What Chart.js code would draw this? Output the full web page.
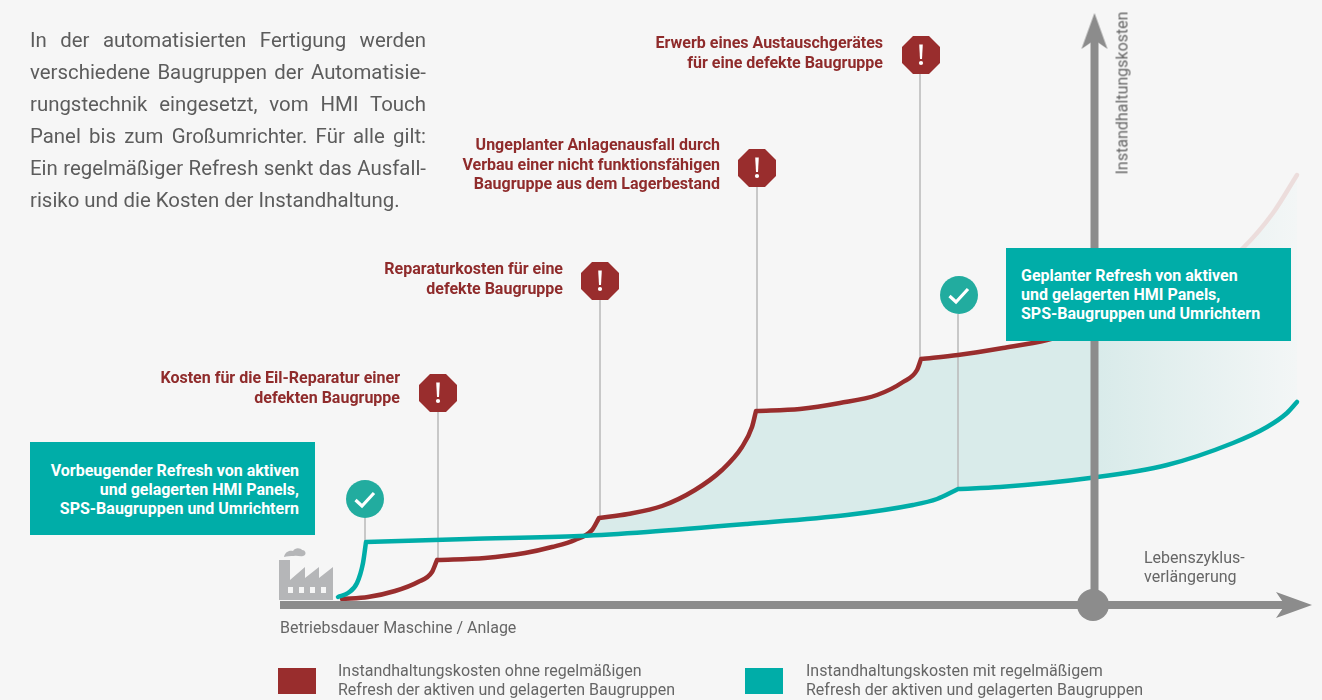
<!DOCTYPE html>
<html lang="de">
<head>
<meta charset="utf-8">
<title>Instandhaltungskosten</title>
<script src="https://cdn.jsdelivr.net/npm/chart.js@4/dist/chart.umd.min.js"></script>
<style>
  html, body { margin: 0; padding: 0; background: #f6f6f6; }
  body { position: relative; width: 1322px; height: 700px; overflow: hidden; font-family: Roboto, sans-serif; color: #666; }
  canvas { position: absolute; left: 0; top: 0; }
  .txt { position: absolute; white-space: nowrap; }
  .intro { left: 30px; top: 24px; width: 396px; font-size: 20.4px; line-height: 32px; color: #5c5c5c; font-weight: 400; }
  .intro div { text-align: justify; text-align-last: justify; white-space: normal; }
  .intro div:last-child { text-align-last: left; }
  .call { font-size: 16px; font-weight: 700; line-height: 19.5px; color: #8f2b2b; text-align: right; }
  .box { position: absolute; width: 285px; height: 93px; background: #00ada8; color: #fff; font-size: 16px; font-weight: 700; line-height: 19px; box-sizing: border-box; }
  .lab { font-size: 16px; line-height: 19px; color: #666; }
  .swatch { position: absolute; width: 38px; height: 26px; }
</style>
</head>
<body>
<canvas id="chart" width="1322" height="700"></canvas>

<svg class="txt" style="left:275px;top:543px" width="64" height="60" viewBox="275 543 64 60">
  <path fill="#b5b6b8" d="M279 600V560H290V580L305 567V578L319 567V578L333 567V600Z"/>
  <path fill="#b5b6b8" d="M284 557c1-5 5-7 9-6 2-4 8-3 9-1 4 0 5 5 1 6-3 1-6-1-9 0-4 0-7 0-10 1z"/>
  <g fill="#f6f6f6"><rect x="288" y="587" width="5" height="6"/><rect x="299" y="587" width="5" height="6"/><rect x="310" y="587" width="5" height="6"/><rect x="321" y="587" width="5" height="6"/></g>
</svg>

<div class="txt intro">
  <div>In der automatisierten Fertigung werden</div>
  <div>verschiedene Baugruppen der Automatisie-</div>
  <div>rungstechnik eingesetzt, vom HMI Touch</div>
  <div>Panel bis zum Großumrichter. Für alle gilt:</div>
  <div>Ein regelmäßiger Refresh senkt das Ausfall-</div>
  <div>risiko und die Kosten der Instandhaltung.</div>
</div>

<div class="txt call" style="right:439px;top:33px">Erwerb eines Austauschgerätes<br>für eine defekte Baugruppe</div>
<div class="txt call" style="right:602px;top:135px">Ungeplanter Anlagenausfall durch<br>Verbau einer nicht funktionsfähigen<br>Baugruppe aus dem Lagerbestand</div>
<div class="txt call" style="right:759px;top:259px">Reparaturkosten für eine<br>defekte Baugruppe</div>
<div class="txt call" style="right:922px;top:368px">Kosten für die Eil-Reparatur einer<br>defekten Baugruppe</div>

<div class="box" style="left:30px;top:442px;padding:19px 16px 0 0;text-align:right">Vorbeugender Refresh von aktiven<br>und gelagerten HMI Panels,<br>SPS-Baugruppen und Umrichtern</div>
<div class="box" style="left:1006px;top:248px;padding:18px 0 0 15px">Geplanter Refresh von aktiven<br>und gelagerten HMI Panels,<br>SPS-Baugruppen und Umrichtern</div>

<div class="txt lab" id="yTitle" style="left:1122px;top:93px;transform:translate(-50%,-50%) rotate(-90deg)"></div>
<div class="txt lab" id="xTitleRight" style="left:1144px;top:548px"></div>
<div class="txt lab" id="xTitle" style="left:280px;top:618px"></div>

<div class="swatch" style="left:278px;top:668px;background:#992d2d"></div>
<div class="txt lab" id="legendRed" style="left:338px;top:661px"></div>
<div class="swatch" style="left:745px;top:668px;background:#00ada8"></div>
<div class="txt lab" id="legendTeal" style="left:806px;top:661px"></div>

<script>
// Betriebsdauer (x) and Instandhaltungskosten (y).
// A null cost ends a curve section, so every cost jump keeps its sharp corner.
const redTime = [342, 368, 395, 418, 432, 437, 437, 437, 485, 525, 552, 575, 592, 599, 599, 599, 628, 662, 695, 722, 742, 752, 756, 756, 756, 800, 840, 877, 903, 917, 921, 921, 921, 958, 1003, 1047, 1120, 1190, 1243, 1273, 1297];
const redCost = [1, 3, 9, 18, 28, 40, null, 40, 42, 47, 53, 60, 70, 82, null, 82, 86, 94, 110, 130, 153, 173, 189, null, 189, 191, 197, 205, 218, 230, 241, null, 241, 245, 252, 260, 282, 310, 352, 387, 425];

const tealTime = [338, 348, 357, 363, 366, 366, 366, 468, 580, 647, 747, 847, 913, 937, 958, 958, 958, 1000, 1090, 1167, 1233, 1267, 1287, 1297];
const tealCost = [3, 7, 17, 37, 58, null, 58, 61, 64, 68, 76, 85, 95, 101, 111, null, 111, 113, 122, 135, 157, 173, 187, 198];

// thin lines from the pins down to the curves
const stemTime = [365, 438, 600, 757, 920, 958];
const stemFrom = [58, 40, 82, 189, 240, 111];
const stemTo = [82, 188, 300, 413, 526, 286];

const alertTime = [438, 600, 757, 921];
const alertCost = [207, 319, 432, 545];
const checkTime = [365, 959];
const checkCost = [101, 305];

const seriesNames = [
  'Instandhaltungskosten ohne regelmäßigen<br>Refresh der aktiven und gelagerten Baugruppen',
  'Instandhaltungskosten mit regelmäßigem<br>Refresh der aktiven und gelagerten Baugruppen'
];
const yAxisTitle = 'Instandhaltungskosten';
const xAxisTitle = 'Betriebsdauer Maschine / Anlage';
const xAxisEndTitle = 'Lebenszyklus-<br>verlängerung';

document.getElementById('legendRed').innerHTML = seriesNames[0];
document.getElementById('legendTeal').innerHTML = seriesNames[1];
document.getElementById('yTitle').textContent = yAxisTitle;
document.getElementById('xTitle').textContent = xAxisTitle;
document.getElementById('xTitleRight').innerHTML = xAxisEndTitle;

const RED = '#992d2d';
const TEAL = '#00ada8';
const AXIS = '#8c8c8c';
const WIDTH = 1322;

function zip(xs, ys) {
  return xs.map((x, i) => ({ x: x, y: ys[i] }));
}

function makeIcon(w, h, draw) {
  const c = document.createElement('canvas');
  c.width = w;
  c.height = h;
  draw(c.getContext('2d'));
  return c;
}

const alertIcon = makeIcon(40, 40, g => {
  g.fillStyle = RED;
  g.beginPath();
  [[12, 1], [28, 1], [39, 12], [39, 28], [28, 39], [12, 39], [1, 28], [1, 12]].forEach(p => g.lineTo(p[0], p[1]));
  g.closePath();
  g.fill();
  g.fillStyle = '#fff';
  g.beginPath();
  g.moveTo(18.2, 9.5);
  g.lineTo(21.8, 9.5);
  g.lineTo(21, 24);
  g.lineTo(19, 24);
  g.closePath();
  g.fill();
  g.beginPath();
  g.arc(20, 28, 2.1, 0, Math.PI * 2);
  g.fill();
});

const checkIcon = makeIcon(40, 40, g => {
  g.fillStyle = '#22ac9f';
  g.beginPath();
  g.arc(20, 20, 19, 0, Math.PI * 2);
  g.fill();
  g.strokeStyle = '#fff';
  g.lineWidth = 3.2;
  g.beginPath();
  g.moveTo(10.5, 21);
  g.lineTo(17, 27);
  g.lineTo(29, 14);
  g.stroke();
});

const arrowIcon = makeIcon(38, 28, g => {
  g.fillStyle = AXIS;
  g.beginPath();
  g.moveTo(1, 1);
  g.lineTo(37, 14);
  g.lineTo(1, 27);
  g.lineTo(10, 14);
  g.closePath();
  g.fill();
});

const ctx = document.getElementById('chart').getContext('2d');

const redStroke = ctx.createLinearGradient(0, 0, WIDTH, 0);
redStroke.addColorStop(0, RED);
redStroke.addColorStop(1090 / WIDTH, RED);
redStroke.addColorStop(1235 / WIDTH, '#ecdddc');
redStroke.addColorStop(1, '#ecdddc');

const gapFill = ctx.createLinearGradient(0, 0, WIDTH, 0);
gapFill.addColorStop(0, '#d9ebea');
gapFill.addColorStop(1098 / WIDTH, '#d9ebea');
gapFill.addColorStop(1297 / WIDTH, '#f3f6f6');
gapFill.addColorStop(1, '#f3f6f6');

const stemPoints = stemTime.flatMap((t, i) => [
  { x: t, y: stemFrom[i] },
  { x: t, y: stemTo[i] },
  { x: t, y: null }
]);

const curve = {
  type: 'line',
  pointRadius: 0,
  borderWidth: 4.5,
  borderCapStyle: 'round',
  borderJoinStyle: 'round',
  cubicInterpolationMode: 'monotone',
  spanGaps: false
};

new Chart(ctx, {
  type: 'line',
  data: {
    datasets: [
      { // horizontal axis
        data: [{ x: 280, y: -5 }, { x: 1290, y: -5 }],
        borderColor: AXIS, borderWidth: 8, pointRadius: 0, borderCapStyle: 'butt'
      },
      { // vertical axis
        data: [{ x: 1094.5, y: -5 }, { x: 1094.5, y: 560 }],
        borderColor: AXIS, borderWidth: 8, pointRadius: 0, borderCapStyle: 'butt'
      },
      { // arrow heads and the hub where the axes meet
        data: [{ x: 1294, y: -5 }, { x: 1094.5, y: 569 }, { x: 1093, y: -5 }],
        showLine: false,
        pointStyle: c => (c.dataIndex === 2 ? 'circle' : arrowIcon),
        pointRotation: c => (c.dataIndex === 1 ? -90 : 0),
        pointRadius: c => (c.dataIndex === 2 ? 16 : 19),
        pointBackgroundColor: AXIS,
        pointBorderWidth: 0
      },
      {
        data: zip(alertTime, alertCost),
        showLine: false,
        pointStyle: alertIcon,
        pointRadius: 19
      },
      {
        data: zip(checkTime, checkCost),
        showLine: false,
        pointStyle: checkIcon,
        pointRadius: 19
      },
      Object.assign({}, curve, {
        label: seriesNames[1],
        data: zip(tealTime, tealCost),
        borderColor: TEAL
      }),
      Object.assign({}, curve, {
        label: seriesNames[0],
        data: zip(redTime, redCost),
        borderColor: redStroke,
        fill: { target: 5, above: gapFill, below: 'rgba(0,0,0,0)' }
      }),
      {
        data: stemPoints,
        borderColor: '#b9b9b9',
        borderWidth: 1.5,
        pointRadius: 0,
        spanGaps: false
      }
    ]
  },
  options: {
    responsive: false,
    animation: false,
    events: [],
    layout: { padding: 0, autoPadding: false },
    plugins: {
      legend: { display: false },
      title: { display: false },
      tooltip: { enabled: false },
      filler: { drawTime: 'beforeDatasetsDraw' }
    },
    scales: {
      x: { type: 'linear', min: 0, max: WIDTH, display: false },
      y: { type: 'linear', min: -100, max: 600, display: false }
    }
  }
});
</script>
</body>
</html>
